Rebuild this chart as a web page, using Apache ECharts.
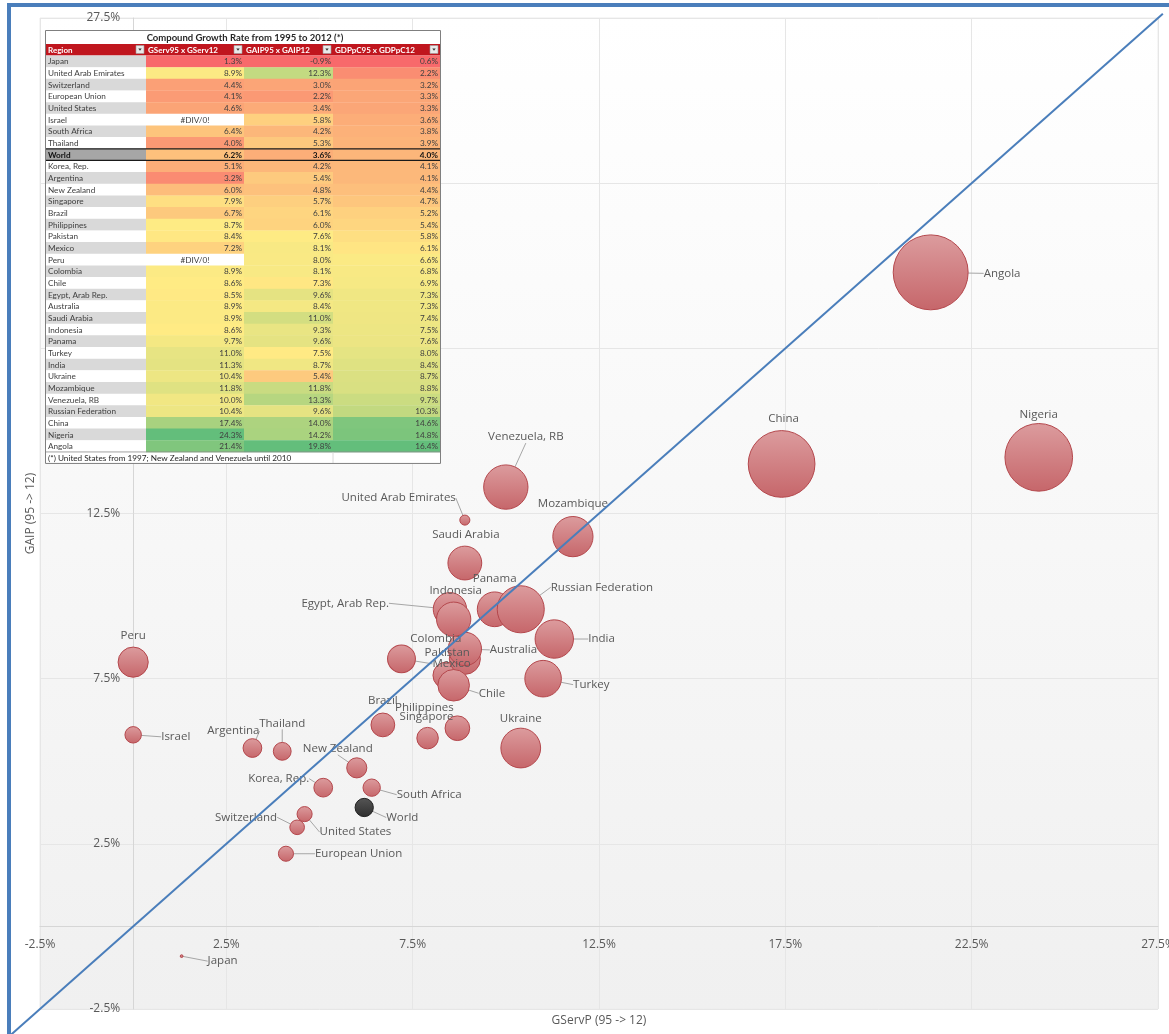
<!DOCTYPE html>
<html>
<head>
<meta charset="utf-8">
<script src="https://cdn.jsdelivr.net/npm/echarts@6/dist/echarts.min.js"></script>
<style>
html,body{margin:0;padding:0;background:#ffffff;}
#chart{width:1169px;height:1034px;}
</style>
</head>
<body>
<div id="chart"></div>
<script>
// ---------------- DATA ----------------
const regions = ['Japan','United Arab Emirates','Switzerland','European Union','United States','Israel','South Africa','Thailand','World','Korea, Rep.','Argentina','New Zealand','Singapore','Brazil','Philippines','Pakistan','Mexico','Peru','Colombia','Chile','Egypt, Arab Rep.','Australia','Saudi Arabia','Indonesia','Panama','Turkey','India','Ukraine','Mozambique','Venezuela, RB','Russian Federation','China','Nigeria','Angola'];
// null = #DIV/0! in the table
const gservGrowth = [1.3,8.9,4.4,4.1,4.6,null,6.4,4.0,6.2,5.1,3.2,6.0,7.9,6.7,8.7,8.4,7.2,null,8.9,8.6,8.5,8.9,8.9,8.6,9.7,11.0,11.3,10.4,11.8,10.0,10.4,17.4,24.3,21.4];
const gaipGrowth  = [-0.9,12.3,3.0,2.2,3.4,5.8,4.2,5.3,3.6,4.2,5.4,4.8,5.7,6.1,6.0,7.6,8.1,8.0,8.1,7.3,9.6,8.4,11.0,9.3,9.6,7.5,8.7,5.4,11.8,13.3,9.6,14.0,14.2,19.8];
const gdppcGrowth = [0.6,2.2,3.2,3.3,3.3,3.6,3.8,3.9,4.0,4.1,4.1,4.4,4.7,5.2,5.4,5.8,6.1,6.6,6.8,6.9,7.3,7.3,7.4,7.5,7.6,8.0,8.4,8.7,8.8,9.7,10.3,14.6,14.8,16.4];
const identityLine = [-3.3, 27.63];   // y = x reference line extent
const axisMin = -2.5, axisMax = 27.5, axisStep = 5;
const tableTitle = 'Compound Growth Rate from 1995 to 2012 (*)';
const tableHeaders = ['Region','GServ95 x GServ12','GAIP95 x GAIP12','GDPpC95 x GDPpC12'];
const tableNote = '(*) United States from 1997; New Zealand and Venezuela until 2010';
const xAxisTitle = 'GServP (95 -> 12)';
const yAxisTitle = 'GAIP (95 -> 12)';
const errorText = '#DIV/0!';

// ---------------- LAYOUT / STYLE ----------------
const W = 1169, H = 1034;
const G = {left:40, right:11, top:18, bottom:25};
const plotW = W - G.left - G.right, plotH = H - G.top - G.bottom;
// axes cross at zero (Excel style): move each axis into the plot
const xAxisOffset = -plotH * (0 - axisMin) / (axisMax - axisMin);
const yAxisOffset = -plotW * (0 - axisMin) / (axisMax - axisMin);

// label offset from bubble centre: [dx, dy, align, leaderLine]
const labelPos = {
  'Japan':[26,5,'left',1],
  'United Arab Emirates':[-9,-22,'right',1],
  'Switzerland':[-20,-10,'right',1],
  'European Union':[29,0,'left',1],
  'United States':[15,18,'left',1],
  'Israel':[28,2,'left',1],
  'South Africa':[25,7,'left',1],
  'Thailand':[0,-28,'center',1],
  'World':[22,10,'left',1],
  'Korea, Rep.':[-14,-9,'right',1],
  'Argentina':[-19,-17,'center',1],
  'New Zealand':[-19,-19,'center',1],
  'Singapore':[-1,-21,'center',0],
  'Brazil':[0,-24,'center',0],
  'Philippines':[-33,-20,'center',0],
  'Pakistan':[1,-23,'center',0],
  'Mexico':[31,5,'left',1],
  'Peru':[0,-26,'center',0],
  'Colombia':[-29,-20,'center',0],
  'Chile':[25,8,'left',1],
  'Egypt, Arab Rep.':[-61,-6,'right',1],
  'Australia':[25,1,'left',1],
  'Saudi Arabia':[1,-28,'center',0],
  'Indonesia':[2,-28,'center',0],
  'Panama':[0,-31,'center',0],
  'Turkey':[30,6,'left',1],
  'India':[34,0,'left',1],
  'Ukraine':[0,-29,'center',0],
  'Mozambique':[0,-33,'center',0],
  'Venezuela, RB':[20,-50,'center',1],
  'Russian Federation':[30,-22,'left',1],
  'China':[2,-45,'center',0],
  'Nigeria':[0,-43,'center',0],
  'Angola':[53,1,'left',1]
};

const bubbleFill = new echarts.graphic.LinearGradient(0,0,0,1,[
  {offset:0,color:'#dc9c9e'},{offset:1,color:'#c6666a'}]);
const worldFill = new echarts.graphic.LinearGradient(0,0,0,1,[
  {offset:0,color:'#555555'},{offset:1,color:'#2e2e2e'}]);

const chart = echarts.init(document.getElementById('chart'), null, {renderer:'canvas'});

const bubbleData = regions.map((r,i)=>{
  const item = {
    name:r,
    value:[gservGrowth[i] == null ? 0 : gservGrowth[i], gaipGrowth[i], gdppcGrowth[i]],
    labelLine:{show: !!labelPos[r][3]}
  };
  if (r === 'World') item.itemStyle = {color:worldFill, borderColor:'#222222'};
  return item;
});

// ---------- table (drawn with graphic elements) ----------
function hexToRgb(h){return [parseInt(h.substr(1,2),16),parseInt(h.substr(3,2),16),parseInt(h.substr(5,2),16)];}
function lerpColor(a,b,t){
  const A=hexToRgb(a),B=hexToRgb(b);
  t=Math.max(0,Math.min(1,t));
  return 'rgb('+A.map((v,k)=>Math.round(v+(B[k]-v)*t)).join(',')+')';
}
function colorScale(arr){
  const vals = arr.filter(v=>v!=null).slice().sort((a,b)=>a-b);
  const n = vals.length, min = vals[0], max = vals[n-1];
  const pos = 0.5*(n-1), lo = Math.floor(pos), hi = Math.ceil(pos);
  const mid = vals[lo] + (vals[hi]-vals[lo])*(pos-lo);
  return function(v){
    if (v == null) return '#ffffff';
    if (v <= mid) return lerpColor('#F8696B','#FFEB84',(v-min)/(mid-min));
    return lerpColor('#FFEB84','#63BE7B',(v-mid)/(max-mid));
  };
}
const tableCols = [gservGrowth, gaipGrowth, gdppcGrowth];
const scales = tableCols.map(colorScale);

const T = {x:46, y:30, titleH:14, headH:11.5, rowH:11.66, footH:11.5, w:[100,98,89,107]};
const colX = [T.x]; T.w.forEach((w,k)=>colX.push(colX[k]+w));
const tableW = colX[4]-T.x;
const tfont = 'Lato';
const Z = 100;
const tableEls = [];
const bodyTop = T.y + T.titleH + T.headH;
const totalH = T.titleH + T.headH + regions.length*T.rowH + T.footH;
tableEls.push({type:'rect', z:Z, shape:{x:T.x-1,y:T.y,width:tableW+2,height:totalH}, style:{fill:'#ffffff'}});
tableEls.push({type:'text', z:Z+2, x:T.x+tableW/2+2, y:T.y+T.titleH/2+0.5,
  style:{text:tableTitle, font:'bold 9.5px '+tfont, fill:'#262626', align:'center', verticalAlign:'middle'}});
const hy = T.y+T.titleH;
tableEls.push({type:'rect', z:Z+1, shape:{x:T.x,y:hy,width:tableW,height:T.headH}, style:{fill:'#c0161e'}});
tableHeaders.forEach((h,k)=>{
  tableEls.push({type:'text', z:Z+2, x:colX[k]+2, y:hy+T.headH/2+0.5,
    style:{text:h, font:'bold 8px '+tfont, fill:'#ffffff', align:'left', verticalAlign:'middle'}});
  const bx = colX[k+1]-10;
  tableEls.push({type:'rect', z:Z+2, shape:{x:bx,y:hy+1.5,width:8,height:8}, style:{fill:'#e9e9e9', stroke:'#9a9a9a', lineWidth:0.6}});
  tableEls.push({type:'polygon', z:Z+3, shape:{points:[[bx+2.3,hy+4.5],[bx+5.7,hy+4.5],[bx+4,hy+6.8]]}, style:{fill:'#333333'}});
});
regions.forEach((r,i)=>{
  const y = bodyTop + i*T.rowH;
  const isWorld = r === 'World';
  const regBg = isWorld ? '#a6a6a6' : (i%2===0 ? '#d9d9d9' : '#ffffff');
  tableEls.push({type:'rect', z:Z+1, shape:{x:colX[0],y:y,width:T.w[0],height:T.rowH+0.3}, style:{fill:regBg}});
  tableEls.push({type:'text', z:Z+2, x:colX[0]+2, y:y+T.rowH/2+0.5,
    style:{text:r, font:(isWorld?'bold ':'')+'8.2px '+tfont, fill:isWorld?'#111111':'#404040', align:'left', verticalAlign:'middle'}});
  tableCols.forEach((col,k)=>{
    const v = col[i];
    tableEls.push({type:'rect', z:Z+1, shape:{x:colX[k+1],y:y,width:T.w[k+1],height:T.rowH+0.3}, style:{fill:scales[k](v)}});
    if (v == null) {
      tableEls.push({type:'text', z:Z+2, x:colX[k+1]+T.w[k+1]/2, y:y+T.rowH/2+0.5,
        style:{text:errorText, font:'8.2px '+tfont, fill:'#404040', align:'center', verticalAlign:'middle'}});
    } else {
      tableEls.push({type:'text', z:Z+2, x:colX[k+2]-2, y:y+T.rowH/2+0.5,
        style:{text:v.toFixed(1)+'%', font:(isWorld?'bold ':'')+'8.2px '+tfont, fill:isWorld?'#111111':'#404040', align:'right', verticalAlign:'middle'}});
    }
  });
  if (isWorld) {
    tableEls.push({type:'line', z:Z+3, shape:{x1:T.x,y1:y,x2:T.x+tableW,y2:y}, style:{stroke:'#1a1a1a', lineWidth:1.3}});
    tableEls.push({type:'line', z:Z+3, shape:{x1:T.x,y1:y+T.rowH,x2:T.x+tableW,y2:y+T.rowH}, style:{stroke:'#1a1a1a', lineWidth:1.3}});
  }
});
const fy = bodyTop + regions.length*T.rowH;
tableEls.push({type:'line', z:Z+3, shape:{x1:T.x,y1:fy,x2:T.x+tableW,y2:fy}, style:{stroke:'#8c8c8c', lineWidth:0.8}});
tableEls.push({type:'line', z:Z+3, shape:{x1:colX[3],y1:fy,x2:colX[3],y2:fy+T.footH}, style:{stroke:'#d0d0d0', lineWidth:0.8}});
tableEls.push({type:'text', z:Z+2, x:T.x+2, y:fy+T.footH/2+0.5,
  style:{text:tableNote, font:'8.2px '+tfont, fill:'#262626', align:'left', verticalAlign:'middle'}});
tableEls.push({type:'rect', z:Z+4, shape:{x:T.x-0.5,y:T.y+0.5,width:tableW+1,height:totalH-0.5}, style:{fill:'none', stroke:'#7f7f7f', lineWidth:1}});

// ---------------- OPTION ----------------
const axisText = {color:'#595959', fontSize:12, fontFamily:'Open Sans'};
const pct = v => v.toFixed(1)+'%';
const baseGraphic = [
  {type:'text', z:50, x:G.left+plotW/2, y:1021, style:{text:xAxisTitle, fill:'#595959', font:'12px Open Sans', align:'center', verticalAlign:'middle'}},
  {type:'text', z:50, x:31, y:G.top+plotH/2, rotation:Math.PI/2, style:{text:yAxisTitle, fill:'#595959', font:'12px Open Sans', align:'center', verticalAlign:'middle'}},
  {type:'rect', z:60, shape:{x:7,y:3,width:1162,height:4}, style:{fill:'#4a7ebb'}},
  {type:'rect', z:60, shape:{x:7,y:3,width:4,height:1031}, style:{fill:'#4a7ebb'}}
].concat(tableEls);

const option = {
  animation:false,
  backgroundColor:'#ffffff',
  grid:{left:G.left, right:G.right, top:G.top, bottom:G.bottom, show:true, containLabel:false, outerBoundsMode:'none',
    backgroundColor:new echarts.graphic.LinearGradient(0,0,0,1,[{offset:0,color:'#ffffff'},{offset:1,color:'#f0f0f0'}]),
    borderColor:'#ececec', borderWidth:1},
  xAxis:{type:'value', min:axisMin, max:axisMax, interval:axisStep, position:'bottom', offset:xAxisOffset,
    axisLine:{show:true, onZero:false, lineStyle:{color:'#d6d6d6', width:1}},
    axisTick:{show:false},
    axisLabel:Object.assign({margin:12, showMinLabel:true, showMaxLabel:true, hideOverlap:false, formatter:pct}, axisText),
    splitLine:{show:true, lineStyle:{color:'#e6e6e6', width:1}}},
  yAxis:{type:'value', min:axisMin, max:axisMax, interval:axisStep, position:'left', offset:yAxisOffset,
    axisLine:{show:true, onZero:false, lineStyle:{color:'#d6d6d6', width:1}},
    axisTick:{show:false},
    axisLabel:Object.assign({margin:13, showMinLabel:true, showMaxLabel:true, hideOverlap:false, formatter:pct}, axisText),
    splitLine:{show:true, lineStyle:{color:'#e6e6e6', width:1}}},
  series:[
    {
      type:'scatter', name:'Countries', z:3,
      data:bubbleData,
      symbolSize:function(val){return val[2]*4.57;},
      itemStyle:{color:bubbleFill, borderColor:'#b4474c', borderWidth:1, opacity:1},
      label:{show:true, formatter:'{b}', position:'inside', color:'#595959', fontSize:11.5, fontFamily:'Open Sans'},
      labelLine:{show:true, smooth:false, lineStyle:{color:'#a6a6a6', width:1}},
      labelLayout:function(p){
        const r = regions[p.dataIndex];
        const o = labelPos[r];
        const cx = p.rect.x + p.rect.width/2, cy = p.rect.y + p.rect.height/2;
        return {x:cx+o[0], y:cy+o[1], align:o[2], verticalAlign:'middle'};
      },
      emphasis:{disabled:true}
    }
  ],
  graphic:baseGraphic
};
chart.setOption(option);

// y = x reference line (extends past the plot like the Excel shape) – placed through the axis scales
const p0 = chart.convertToPixel({gridIndex:0}, [identityLine[0], identityLine[0]]);
const p1 = chart.convertToPixel({gridIndex:0}, [identityLine[1], identityLine[1]]);
chart.setOption({
  graphic: baseGraphic.concat([{type:'line', z:40, silent:true,
    shape:{x1:p0[0], y1:p0[1], x2:p1[0], y2:p1[1]},
    style:{stroke:'#4a7ebb', lineWidth:2}}])
}, {replaceMerge:['graphic']});
</script>
</body>
</html>
